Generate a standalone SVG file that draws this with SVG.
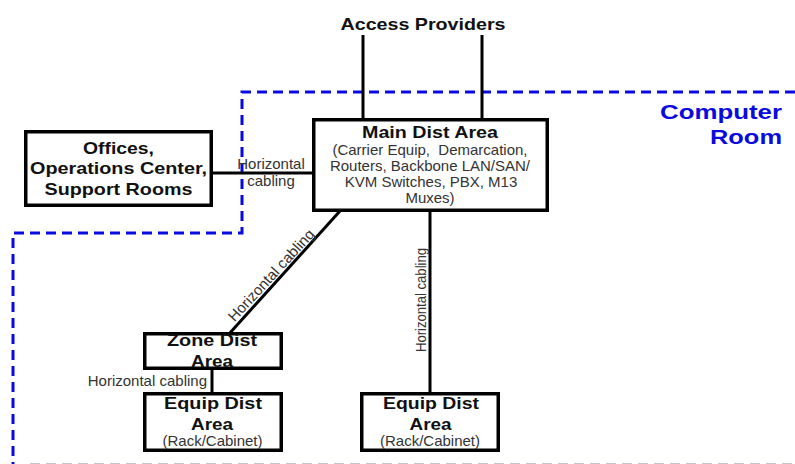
<svg xmlns="http://www.w3.org/2000/svg" width="795" height="464" viewBox="0 0 795 464">
<style>
.box{fill:#fff;stroke:#000;stroke-width:3.5}
.b{font-family:"Liberation Sans",Arial,sans-serif;font-weight:bold;font-size:16.5px;fill:#111;text-anchor:middle}
.r{font-family:"Liberation Sans",Arial,sans-serif;font-size:15px;fill:#333;text-anchor:middle}
.wire{stroke:#000;stroke-width:3;fill:none}
.room{stroke:#0a0ae0;stroke-width:3;fill:none;stroke-dasharray:10 6}
.lbl{font-family:"Liberation Sans",Arial,sans-serif;font-size:15px;fill:#333}
.blue{font-family:"Liberation Sans",Arial,sans-serif;font-weight:bold;font-size:20px;fill:#0a0ae0;text-anchor:end}
</style>
<rect width="795" height="464" fill="#fff"/>
<g id="computer-room">
<path class="room" d="M795,92 H242 V233 H13 V466"/>
<line x1="30" y1="463.5" x2="795" y2="463.5" stroke="#c4c4cc" stroke-width="1" stroke-dasharray="10 6"/>
<text class="blue" x="782" y="119" textLength="122" lengthAdjust="spacingAndGlyphs">Computer</text>
<text class="blue" x="782" y="144" textLength="72" lengthAdjust="spacingAndGlyphs">Room</text>
</g>
<g id="connectors">
<line class="wire" x1="363" y1="35" x2="363" y2="120"/>
<line class="wire" x1="482" y1="35" x2="482" y2="120"/>
<line class="wire" x1="211" y1="173" x2="314" y2="173"/>
<line class="wire" x1="340" y1="211" x2="229" y2="334" stroke-width="2.3"/>
<line class="wire" x1="430" y1="210" x2="430" y2="394"/>
<line class="wire" x1="212" y1="368" x2="212" y2="394"/>
<text class="lbl" x="271" y="169" text-anchor="middle">Horizontal</text>
<text class="lbl" x="271" y="186" text-anchor="middle">cabling</text>
<text class="lbl" x="234.5" y="322.5" transform="rotate(-47.3 234.5 322.5)">Horizontal cabling</text>
<text class="lbl" x="207" y="386" text-anchor="end">Horizontal cabling</text>
<text class="lbl" x="426" y="300" text-anchor="middle" font-size="13" transform="rotate(-90 426 300)" textLength="104" lengthAdjust="spacingAndGlyphs">Horizontal cabling</text>
</g>
<g id="access-providers">
<text class="b" x="423" y="30" textLength="165" lengthAdjust="spacingAndGlyphs">Access Providers</text>
</g>
<g id="offices">
<rect class="box" x="25.75" y="131.75" width="185.5" height="73.5"/>
<text class="b" x="118.5" y="154" textLength="71" lengthAdjust="spacingAndGlyphs">Offices,</text>
<text class="b" x="118.5" y="174" textLength="177" lengthAdjust="spacingAndGlyphs">Operations Center,</text>
<text class="b" x="118.5" y="195" textLength="148" lengthAdjust="spacingAndGlyphs">Support Rooms</text>
</g>
<g id="main-dist-area">
<rect class="box" x="313.75" y="119.75" width="233.5" height="90.5"/>
<text class="b" x="430" y="138" textLength="136" lengthAdjust="spacingAndGlyphs">Main Dist Area</text>
<text class="r" x="430" y="155" xml:space="preserve">(Carrier Equip,  Demarcation,</text>
<text class="r" x="430" y="171">Routers, Backbone LAN/SAN/</text>
<text class="r" x="431" y="187">KVM Switches, PBX, M13</text>
<text class="r" x="430" y="203">Muxes)</text>
</g>
<g id="zone-dist-area">
<rect class="box" x="144.75" y="333.75" width="136.5" height="34.5"/>
<text class="b" x="212" y="346" textLength="90" lengthAdjust="spacingAndGlyphs">Zone Dist</text>
<text class="b" x="212" y="367" textLength="42" lengthAdjust="spacingAndGlyphs">Area</text>
</g>
<g id="equip-dist-area-1">
<rect class="box" x="144.75" y="393.75" width="136.5" height="56.5"/>
<text class="b" x="213" y="409" textLength="98" lengthAdjust="spacingAndGlyphs">Equip Dist</text>
<text class="b" x="212" y="429.5" textLength="42" lengthAdjust="spacingAndGlyphs">Area</text>
<text class="r" x="212.5" y="445.5">(Rack/Cabinet)</text>
</g>
<g id="equip-dist-area-2">
<rect class="box" x="361.75" y="393.75" width="136.5" height="56.5"/>
<text class="b" x="431" y="409" textLength="96" lengthAdjust="spacingAndGlyphs">Equip Dist</text>
<text class="b" x="430.5" y="429.5" textLength="42" lengthAdjust="spacingAndGlyphs">Area</text>
<text class="r" x="430" y="445.5">(Rack/Cabinet)</text>
</g>
</svg>
